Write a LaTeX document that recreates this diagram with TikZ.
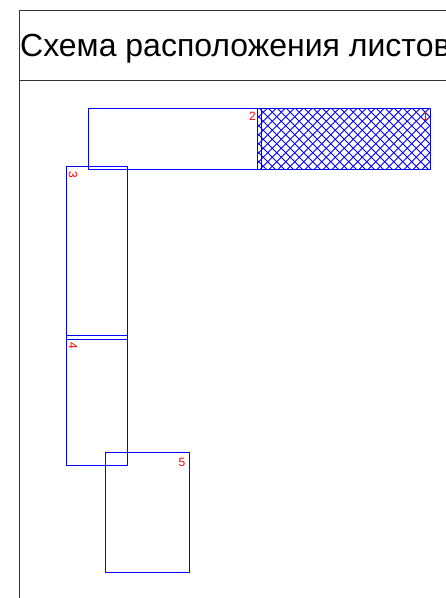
\documentclass[tikz,border=0pt]{standalone}
\usepackage{fontspec}
\setmainfont{Liberation Sans}
\tikzset{
  frameline/.style={draw=black!80,line width=1bp},
  sheet/.style={draw=blue,line width=1.2bp},
  hatchline/.style={draw=blue,line width=0.9bp},
  sheetnum/.style={text=red,font=\fontsize{12bp}{14bp}\selectfont,inner sep=0pt},
}
\begin{document}
\begin{tikzpicture}[x=1bp,y=-1bp,line join=bevel]
  \useasboundingbox (0,0) rectangle (446,598);
  % Frame
  \draw [frameline] (19.5,598) -- (19.5,10.5) -- (446,10.5);
  \draw [frameline] (19.5,80.5) -- (446,80.5);
  \begin{scope}
    \clip (0,0) rectangle (446,598);
    \node (title) [anchor=base west,inner sep=0pt,font=\fontsize{32bp}{36bp}\selectfont] at (20,57) {Схема расположения листов};
  \end{scope}
  % Sheet: 1
  \begin{scope}
    \clip (257.3,108.6) rectangle (430.4,169.4);
    \foreach \i in {0,...,30} {
      \draw [hatchline] (188+9*\i,169.5) -- ++(61,-61);
      \draw [hatchline] (257.5+9*\i-61,108.5) -- ++(61,61);
    }
  \end{scope}
  \draw [sheet] (257.3,108.6) rectangle (430.4,169.4);
  \node (num1) [sheetnum] at (425.5,116.5) {1};
  % Sheet: 2
  \draw [sheet] (88.3,108.6) rectangle (261.3,169.4);
  \node (num2) [sheetnum] at (252.5,116.5) {2};
  % Sheet: 3
  \draw [sheet] (66.3,166.6) rectangle (127.3,339.3);
  \node (num3) [sheetnum,rotate=-90] at (73,175) {3};
  % Sheet: 4
  \draw [sheet] (66.3,335.7) rectangle (127.3,465.4);
  \node (num4) [sheetnum,rotate=-90] at (73,346) {4};
  % Sheet: 5
  \draw [sheet] (105.2,452.4) rectangle (189.3,572.6);
  \node (num5) [sheetnum] at (182,462) {5};
\end{tikzpicture}
\end{document}
